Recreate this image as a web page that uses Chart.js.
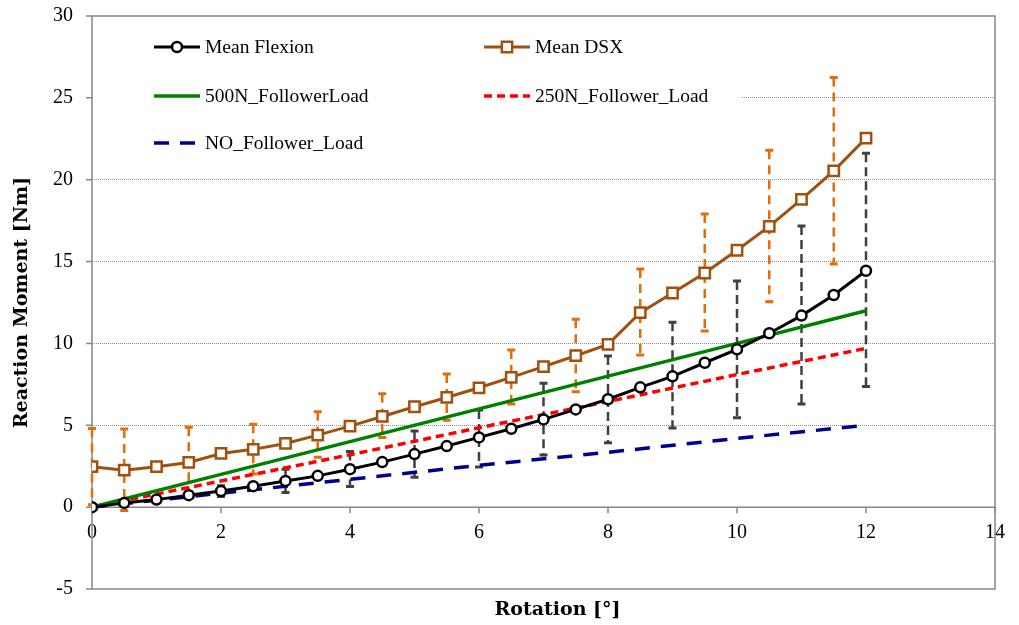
<!DOCTYPE html>
<html>
<head>
<meta charset="utf-8">
<script src="https://cdn.jsdelivr.net/npm/chart.js@4.4.0/dist/chart.umd.min.js"></script>
<style>
  html, body { margin: 0; padding: 0; background: #fff; }
</style>
</head>
<body>
<canvas id="chart" width="1019" height="625"></canvas>
<script>
// rotation steps [deg]
const rotation = [0, 0.5, 1, 1.5, 2, 2.5, 3, 3.5, 4, 4.5, 5, 5.5, 6, 6.5, 7, 7.5, 8, 8.5, 9, 9.5, 10, 10.5, 11, 11.5, 12];
const meanFlexion = [0, 0.26, 0.46, 0.73, 0.98, 1.28, 1.6, 1.91, 2.32, 2.75, 3.24, 3.73, 4.26, 4.79, 5.36, 5.97, 6.59, 7.32, 7.99, 8.82, 9.64, 10.62, 11.7, 12.96, 14.44];
const meanDSX = [2.47, 2.26, 2.47, 2.73, 3.28, 3.53, 3.89, 4.4, 4.95, 5.54, 6.13, 6.7, 7.29, 7.93, 8.58, 9.25, 9.94, 11.88, 13.08, 14.3, 15.69, 17.15, 18.8, 20.54, 22.54];

// follower load curves
const loadRotation = [0, 2, 4, 6, 8, 10, 12];
const load500N = [0, 2, 4, 6, 8, 10, 12];
const load250N = [0, 1.6, 3.2, 4.85, 6.45, 8.1, 9.7];
const noLoad = [0, 0.85, 1.7, 2.55, 3.35, 4.2, 5.0];

// error bars (min / max)
const dsxErrRotation = [0, 0.5, 1.5, 2.5, 3.5, 4.5, 5.5, 6.5, 7.5, 8.5, 9.5, 10.5, 11.5];
const dsxErrHigh = [4.8, 4.77, 4.88, 5.07, 5.83, 6.93, 8.13, 9.6, 11.47, 14.55, 17.9, 21.8, 26.25];
const dsxErrLow = [0.14, -0.2, 0.6, 2.03, 3.05, 4.25, 5.3, 6.3, 7.05, 9.29, 10.76, 12.55, 14.85];
const flexErrRotation = [2, 3, 4, 5, 6, 7, 8, 9, 10, 11, 12];
const flexErrHigh = [1.3, 2.32, 3.4, 4.65, 5.93, 7.56, 9.23, 11.3, 13.81, 17.18, 21.62];
const flexErrLow = [0.65, 0.9, 1.26, 1.82, 2.45, 3.18, 3.94, 4.83, 5.46, 6.3, 7.37];

const yTicks = [-5, 0, 5, 10, 15, 20, 25, 30];
const xTicks = [0, 2, 4, 6, 8, 10, 12, 14];

const toPoints = (xs, ys) => xs.map((x, i) => ({ x: x, y: ys[i] }));

const BROWN = '#A0500F';
const ORANGE = '#E46C0A';
const GREY = '#404040';
const FRAME = '#868686';

// frame, x axis at y=0, legend box and error bars
const decorations = {
  id: 'decorations',
  beforeDatasetsDraw(chart) {
    const { ctx, chartArea: a, scales: { x, y } } = chart;
    const y0 = y.getPixelForValue(0);
    ctx.save();
    ctx.strokeStyle = FRAME;
    ctx.lineWidth = 1.5;
    ctx.strokeRect(a.left, a.top, a.right - a.left, a.bottom - a.top);
    ctx.beginPath();
    ctx.moveTo(a.left, y0); ctx.lineTo(a.right, y0);
    yTicks.forEach(v => { const p = y.getPixelForValue(v); ctx.moveTo(a.left - 6, p); ctx.lineTo(a.left, p); });
    xTicks.forEach(v => { const p = x.getPixelForValue(v); ctx.moveTo(p, y0); ctx.lineTo(p, y0 + 6); });
    ctx.stroke();

    // legend
    ctx.fillStyle = '#fff';
    ctx.fillRect(a.left + 1, a.top + 1, 648, 152);
    const rows = [a.top + 31, a.top + 80, a.top + 127];
    const cols = [a.left + 62, a.left + 392];
    const items = chart.data.datasets;
    const place = [[0, 0], [1, 0], [0, 1], [1, 1], [0, 2]];
    ctx.font = '19.5px "Liberation Serif"';
    ctx.textBaseline = 'middle';
    items.forEach((ds, i) => {
      const cx = cols[place[i][0]], cy = rows[place[i][1]];
      ctx.strokeStyle = ds.borderColor;
      ctx.lineWidth = ds.borderWidth;
      ctx.setLineDash(ds.borderDash || []);
      ctx.beginPath(); ctx.moveTo(cx, cy); ctx.lineTo(cx + 46, cy); ctx.stroke();
      ctx.setLineDash([]);
      if (ds.pointRadius > 0) {
        ctx.fillStyle = '#fff';
        ctx.lineWidth = ds.pointBorderWidth;
        ctx.beginPath();
        if (ds.pointStyle === 'rect') {
          const s = ds.pointRadius * Math.SQRT1_2;
          ctx.rect(cx + 23 - s, cy - s, 2 * s, 2 * s);
        } else {
          ctx.arc(cx + 23, cy, ds.pointRadius, 0, Math.PI * 2);
        }
        ctx.fill(); ctx.stroke();
      }
      ctx.fillStyle = '#000';
      ctx.fillText(ds.label, cx + 51, cy + 1);
    });

    const bars = (xs, lo, hi, color, dash) => {
      ctx.strokeStyle = color;
      xs.forEach((v, i) => {
        const px = x.getPixelForValue(v);
        const pl = y.getPixelForValue(lo[i]);
        const ph = y.getPixelForValue(hi[i]);
        ctx.lineWidth = 2.5;
        ctx.setLineDash(dash);
        ctx.beginPath(); ctx.moveTo(px, ph); ctx.lineTo(px, pl); ctx.stroke();
        ctx.setLineDash([]);
        ctx.lineWidth = 3;
        ctx.beginPath();
        ctx.moveTo(px - 4, ph); ctx.lineTo(px + 4, ph);
        ctx.moveTo(px - 4, pl); ctx.lineTo(px + 4, pl);
        ctx.stroke();
      });
    };
    bars(dsxErrRotation, dsxErrLow, dsxErrHigh, ORANGE, [9, 6]);
    bars(flexErrRotation, flexErrLow, flexErrHigh, GREY, [9, 5]);
    ctx.restore();
  },
  afterDraw(chart) {
    const { ctx, chartArea: a } = chart;
    ctx.save();
    ctx.font = 'bold 19px "DejaVu Serif"';
    ctx.fillStyle = '#000';
    ctx.textAlign = 'center';
    ctx.textBaseline = 'middle';
    ctx.fillText('Rotation [°]', (a.left + a.right) / 2 + 14, a.bottom + 21);
    ctx.restore();
  }
};

new Chart(document.getElementById('chart'), {
  type: 'line',
  data: {
    datasets: [
      { label: 'Mean Flexion', data: toPoints(rotation, meanFlexion), borderColor: '#000', borderWidth: 3,
        pointStyle: 'circle', pointRadius: 5, pointBorderWidth: 2.5, pointBackgroundColor: '#fff', pointBorderColor: '#000' },
      { label: 'Mean DSX', data: toPoints(rotation, meanDSX), borderColor: BROWN, borderWidth: 3,
        pointStyle: 'rect', pointRadius: 7.3, pointBorderWidth: 2.5, pointBackgroundColor: '#fff', pointBorderColor: BROWN },
      { label: '500N_FollowerLoad', data: toPoints(loadRotation, load500N), borderColor: '#008000', borderWidth: 3.5, pointRadius: 0 },
      { label: '250N_Follower_Load', data: toPoints(loadRotation, load250N), borderColor: '#FF0000', borderWidth: 3.5, borderDash: [8, 5], pointRadius: 0 },
      { label: 'NO_Follower_Load', data: toPoints(loadRotation, noLoad), borderColor: '#000090', borderWidth: 3.5, borderDash: [15, 11], pointRadius: 0 }
    ]
  },
  options: {
    responsive: false,
    animation: false,
    layout: { padding: { top: 16, right: 13, bottom: 36, left: 0 } },
    plugins: { legend: { display: false }, tooltip: { enabled: false } },
    scales: {
      x: {
        type: 'linear', min: 0, max: 14, position: { y: 0 },
        ticks: { stepSize: 2, color: '#000', padding: 14, maxRotation: 0, font: { family: 'Liberation Serif', size: 20 } },
        grid: { display: false, drawTicks: false },
        border: { display: false }
      },
      y: {
        min: -5, max: 30,
        ticks: { stepSize: 5, color: '#000', padding: 19, font: { family: 'Liberation Serif', size: 20 } },
        grid: { drawTicks: false, lineWidth: 1,
          color: c => (c.tick && c.tick.value > 0 && c.tick.value < 30) ? '#8c8c8c' : 'rgba(0,0,0,0)' },
        border: { display: false, dash: [1, 1] },
        title: { display: true, text: 'Reaction Moment [Nm]', color: '#000',
          font: { family: 'DejaVu Serif', weight: 'bold', size: 19 }, padding: { top: 10.6, bottom: 0 } },
        afterFit(scale) {
          scale.width = 92;
          scale.paddingTop = 0;
          scale.paddingBottom = 0;
        }
      }
    }
  },
  plugins: [decorations]
});
</script>
</body>
</html>
